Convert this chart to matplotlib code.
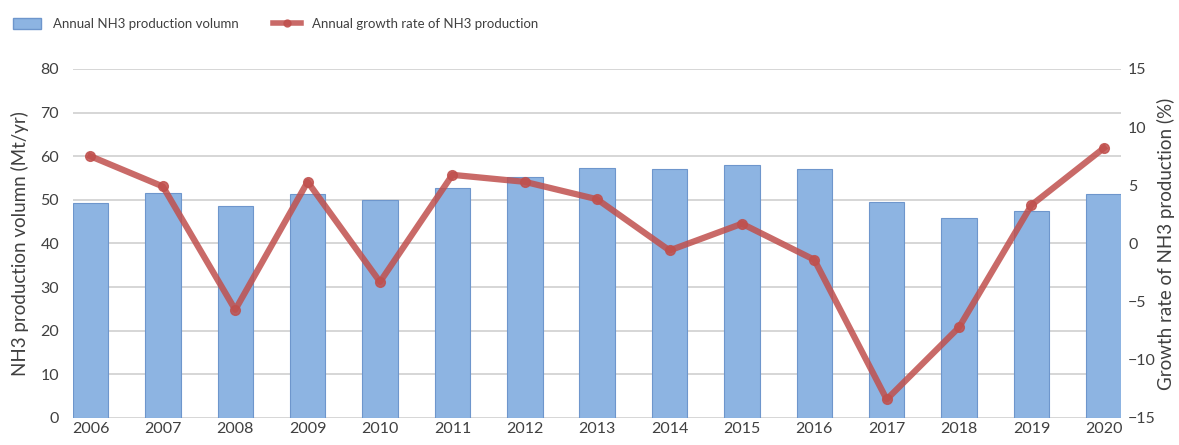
import matplotlib.pyplot as plt
from matplotlib.lines import Line2D
from matplotlib.patches import Patch

years = ['2006', '2007', '2008', '2009', '2010', '2011', '2012', '2013',
         '2014', '2015', '2016', '2017', '2018', '2019', '2020']
volume = [49.3, 51.6, 48.7, 51.3, 49.9, 52.8, 55.2, 57.4,
          57.0, 58.1, 57.0, 49.4, 45.8, 47.4, 51.3]
growth = [7.5, 4.9, -5.7, 5.3, -3.3, 5.9, 5.3, 3.8,
          -0.6, 1.7, -1.4, -13.4, -7.2, 3.3, 8.2]

plt.rcParams['font.family'] = ['Lato', 'DejaVu Sans']
txt = '#404040'

fig = plt.figure(figsize=(11.79, 4.45), dpi=100)
ax = fig.add_axes([0.062, 0.0607, 0.889, 0.7843])
x = range(len(years))

ax.bar(x, volume, width=0.49, color='#8DB4E2', edgecolor='#6E96CC', linewidth=0.8, zorder=2)
ax.set_ylim(0, 80)
ax.set_yticks(range(0, 81, 10))
ax.set_xlim(-0.24, 14.24)
ax.set_xticks(list(x))
ax.set_xticklabels(years)
ax.grid(axis='y', color='#D0D0D0', linewidth=1.2, zorder=0)
ax.set_axisbelow(True)
for s in ax.spines.values():
    s.set_visible(False)
ax.tick_params(length=0, labelsize=11.5, colors=txt, pad=10)
ax.tick_params(axis='x', pad=3)
ax.set_ylabel('NH3 production volumn (Mt/yr)', fontsize=13.5, color=txt)
ax.yaxis.set_label_coords(-0.042, 0.5)

ax2 = ax.twinx()
ax2.plot(x, growth, color='#C0504D', alpha=0.85, linewidth=4.5,
         marker='o', markersize=7, zorder=3)
ax2.set_ylim(-15, 15)
ax2.set_yticks(range(-15, 16, 5))
for s in ax2.spines.values():
    s.set_visible(False)
ax2.tick_params(length=0, labelsize=11.5, colors=txt, pad=5)
ax2.set_ylabel('Growth rate of NH3 production (%)', fontsize=13.5, color=txt)
ax2.yaxis.set_label_coords(1.034, 0.5)

handles = [Patch(facecolor='#8DB4E2', edgecolor='#6E96CC'),
           Line2D([], [], color='#C0504D', alpha=0.85, linewidth=4, marker='o', markersize=5)]
fig.legend(handles, ['Annual NH3 production volumn', 'Annual growth rate of NH3 production'],
           loc='upper left', bbox_to_anchor=(0.0, 0.99), ncol=2, frameon=False,
           fontsize=9.5, labelcolor=txt, handlelength=2.1, handleheight=0.9,
           columnspacing=2.6, handletextpad=0.9, borderaxespad=0.6)

fig.savefig('out.png', dpi=100)
